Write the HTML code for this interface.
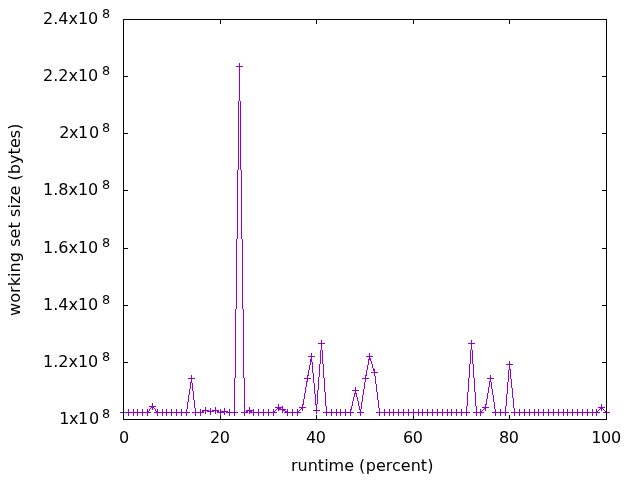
<!DOCTYPE html>
<html><head><meta charset="utf-8"><title>working set size</title>
<style>html,body{margin:0;padding:0;background:#fff;overflow:hidden}svg{display:block}text{font-family:"DejaVu Sans","Liberation Sans",sans-serif;font-size:16px;fill:#000}.s{font-size:12.8px}</style></head><body>
<svg width="640" height="480" viewBox="0 0 640 480">
<rect width="640" height="480" fill="#fff"/>
<path d="M124,362h4v1h-4zM602,362h4v1h-4zM124,305h4v1h-4zM602,305h4v1h-4zM124,248h4v1h-4zM602,248h4v1h-4zM124,190h4v1h-4zM602,190h4v1h-4zM124,133h4v1h-4zM602,133h4v1h-4zM124,76h4v1h-4zM602,76h4v1h-4zM220,415h1v4h-1zM220,20h1v4h-1zM316,415h1v4h-1zM316,20h1v4h-1zM413,415h1v4h-1zM413,20h1v4h-1zM509,415h1v4h-1zM509,20h1v4h-1z" fill="#000" shape-rendering="crispEdges"/>
<path d="M345,409h1v7h-1zM240,101h1v69h-1zM243,309h1v69h-1zM491,382h1v7h-1zM437,409h1v7h-1zM241,170h1v69h-1zM379,408h1v8h-1zM558,409h1v7h-1zM505,406h1v10h-1zM246,410h1v3h-1zM320,350h1v14h-1zM312,362h1v11h-1zM466,406h1v10h-1zM592,409h1v7h-1zM242,239h1v70h-1zM510,369h1v10h-1zM247,410h1v3h-1zM152,403h1v7h-1zM237,170h1v69h-1zM472,350h1v14h-1zM323,364h1v14h-1zM543,409h1v7h-1zM326,406h1v10h-1zM354,393h1v4h-1zM357,397h1v4h-1zM485,404h1v7h-1zM304,393h1v6h-1zM418,409h1v7h-1zM451,409h1v7h-1zM315,394h1v11h-1zM147,409h1v7h-1zM234,378h1v38h-1zM319,364h1v13h-1zM360,409h1v7h-1zM447,409h1v7h-1zM352,401h1v5h-1zM467,392h1v14h-1zM324,378h1v14h-1zM238,101h1v69h-1zM376,384h1v8h-1zM490,375h1v7h-1zM365,375h1v7h-1zM307,375h1v7h-1zM398,409h1v7h-1zM190,382h1v7h-1zM524,409h1v7h-1zM128,409h1v7h-1zM509,361h1v9h-1zM239,63h1v38h-1zM432,409h1v7h-1zM215,407h1v7h-1zM193,391h1v9h-1zM519,409h1v7h-1zM249,407h1v7h-1zM314,383h1v11h-1zM166,409h1v7h-1zM292,409h1v7h-1zM378,400h1v8h-1zM493,395h1v7h-1zM512,388h1v10h-1zM553,409h1v7h-1zM336,409h1v7h-1zM356,393h1v4h-1zM200,409h1v7h-1zM474,378h1v14h-1zM235,309h1v69h-1zM287,409h1v7h-1zM413,409h1v7h-1zM500,409h1v7h-1zM236,239h1v70h-1zM442,409h1v7h-1zM359,406h1v4h-1zM534,409h1v7h-1zM318,377h1v13h-1zM393,409h1v7h-1zM181,409h1v7h-1zM489,381h1v6h-1zM480,409h1v7h-1zM606,409h1v7h-1zM268,409h1v7h-1zM473,364h1v14h-1zM210,408h1v7h-1zM325,392h1v14h-1zM371,361h1v3h-1zM317,390h1v14h-1zM306,381h1v6h-1zM372,364h1v4h-1zM322,350h1v14h-1zM340,409h1v7h-1zM508,370h1v12h-1zM311,353h1v9h-1zM471,340h1v10h-1zM162,409h1v7h-1zM282,406h1v7h-1zM461,409h1v7h-1zM587,409h1v7h-1zM495,409h1v7h-1zM487,393h1v6h-1zM507,382h1v12h-1zM142,409h1v7h-1zM362,395h1v7h-1zM582,409h1v7h-1zM492,389h1v6h-1zM229,409h1v7h-1zM470,350h1v14h-1zM263,409h1v7h-1zM192,383h1v8h-1zM601,404h1v7h-1zM506,394h1v12h-1zM244,378h1v38h-1zM567,409h1v7h-1zM350,409h1v7h-1zM476,406h1v10h-1zM310,359h1v6h-1zM363,389h1v6h-1zM563,409h1v7h-1zM469,364h1v14h-1zM368,359h1v6h-1zM427,409h1v7h-1zM514,408h1v8h-1zM468,378h1v14h-1zM548,409h1v7h-1zM331,409h1v7h-1zM278,404h1v7h-1zM511,379h1v9h-1zM195,408h1v8h-1zM187,402h1v7h-1zM191,375h1v8h-1zM577,409h1v7h-1zM475,392h1v14h-1zM224,408h1v7h-1zM316,404h1v10h-1zM529,409h1v7h-1zM133,409h1v7h-1zM313,373h1v10h-1zM513,398h1v10h-1zM176,409h1v7h-1zM377,392h1v8h-1zM370,358h1v3h-1zM205,407h1v7h-1zM297,409h1v7h-1zM596,409h1v7h-1zM305,387h1v6h-1zM494,402h1v7h-1zM486,399h1v6h-1zM194,400h1v8h-1zM186,409h1v7h-1zM308,370h1v6h-1zM258,409h1v7h-1zM366,370h1v6h-1zM309,365h1v5h-1zM321,340h1v10h-1zM303,399h1v6h-1zM488,387h1v6h-1zM375,376h1v8h-1zM408,409h1v7h-1zM572,409h1v7h-1zM302,404h1v7h-1zM389,409h1v7h-1zM384,409h1v7h-1zM355,387h1v7h-1zM188,395h1v7h-1zM422,409h1v7h-1zM373,368h1v3h-1zM353,397h1v4h-1zM273,409h1v7h-1zM364,382h1v7h-1zM369,353h1v7h-1zM538,409h1v7h-1zM123,409h1v7h-1zM203,410h1v3h-1zM351,406h1v4h-1zM157,409h1v7h-1zM137,409h1v7h-1zM217,410h1v3h-1zM358,401h1v5h-1zM220,409h1v7h-1zM171,409h1v7h-1zM250,410h1v3h-1zM189,389h1v6h-1zM253,409h1v7h-1zM279,407h1v3h-1zM374,369h1v7h-1zM367,365h1v5h-1zM403,409h1v7h-1zM361,402h1v7h-1zM251,410h1v3h-1zM456,409h1v7h-1zM280,407h1v3h-1zM218,410h1v3h-1zM202,410h1v3h-1zM149,409h1v1h-1zM155,409h1v1h-1zM276,409h1v1h-1zM281,409h5v1h-5zM300,409h1v1h-1zM483,409h1v1h-1zM599,409h1v1h-1zM603,409h1v1h-1zM120,412h31v1h-31zM154,412h36v1h-36zM192,412h12v1h-12zM219,412h6v1h-6zM226,412h12v1h-12zM241,412h7v1h-7zM252,412h25v1h-25zM284,412h17v1h-17zM323,412h31v1h-31zM357,412h7v1h-7zM376,412h94v1h-94zM473,412h11v1h-11zM492,412h17v1h-17zM511,412h89v1h-89zM603,412h7v1h-7zM352,390h7v1h-7zM151,407h3v1h-3zM275,407h8v1h-8zM299,407h7v1h-7zM482,407h7v1h-7zM598,407h7v1h-7zM308,356h7v1h-7zM366,356h7v1h-7zM148,411h1v1h-1zM156,411h2v1h-2zM207,411h7v1h-7zM221,411h7v1h-7zM274,411h1v1h-1zM285,411h3v1h-3zM298,411h1v1h-1zM481,411h1v1h-1zM597,411h1v1h-1zM605,411h2v1h-2zM188,378h7v1h-7zM304,378h7v1h-7zM362,378h7v1h-7zM487,378h7v1h-7zM149,410h1v1h-1zM155,410h1v1h-1zM204,410h5v1h-5zM212,410h7v1h-7zM248,410h6v1h-6zM275,410h1v1h-1zM283,410h2v1h-2zM299,410h1v1h-1zM313,410h7v1h-7zM482,410h1v1h-1zM598,410h1v1h-1zM604,410h1v1h-1zM318,343h7v1h-7zM468,343h7v1h-7zM236,66h7v1h-7zM149,406h7v1h-7zM371,372h7v1h-7zM150,408h1v1h-1zM154,408h1v1h-1zM277,408h4v1h-4zM301,408h2v1h-2zM484,408h2v1h-2zM600,408h3v1h-3zM506,364h7v1h-7z" fill="#9400d3" shape-rendering="crispEdges"/>
<path d="M123,19h484v1h-484zM123,419h484v1h-484zM123,19h1v401h-1zM606,19h1v401h-1z" fill="#000" shape-rendering="crispEdges"/>
<text x="59.25 68.95 77.95 89" y="424">1x10</text><text class="s" x="102.1" y="417.6">8</text>
<text x="98.3" y="367" text-anchor="end">1.2x10</text><text class="s" x="102.1" y="360.6">8</text>
<text x="98.3" y="310" text-anchor="end">1.4x10</text><text class="s" x="102.1" y="303.6">8</text>
<text x="98.3" y="253" text-anchor="end">1.6x10</text><text class="s" x="102.1" y="246.6">8</text>
<text x="98.3" y="195" text-anchor="end">1.8x10</text><text class="s" x="102.1" y="188.6">8</text>
<text x="59.25 68.95 77.95 89" y="138">2x10</text><text class="s" x="102.1" y="131.6">8</text>
<text x="98.3" y="81" text-anchor="end">2.2x10</text><text class="s" x="102.1" y="74.6">8</text>
<text x="98.3" y="24" text-anchor="end">2.4x10</text><text class="s" x="102.1" y="17.6">8</text>
<text x="118.9" y="443">0</text>
<text x="210 219.85" y="443">20</text>
<text x="306 315.85" y="443">40</text>
<text x="403 412.85" y="443">60</text>
<text x="499 508.85" y="443">80</text>
<text x="591.25 601 611" y="443">100</text>
<text x="362.2" y="470.5" text-anchor="middle">runtime (<tspan dx="0.5">percent)</tspan></text>
<text transform="translate(20,219.7) rotate(-90)" text-anchor="middle" style="letter-spacing:0.07px">working set size (bytes)</text>
</svg></body></html>
